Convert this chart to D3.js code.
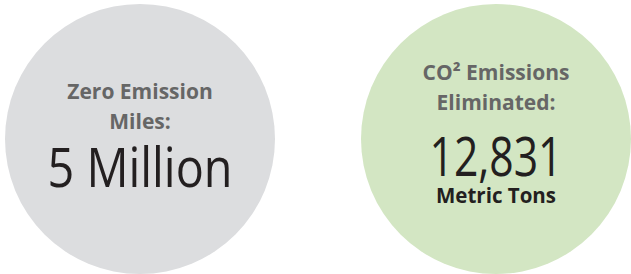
<!DOCTYPE html>
<html>
<head>
<meta charset="utf-8">
<script src="https://cdn.jsdelivr.net/npm/d3@7"></script>
<style>
  body { margin: 0; background: #fff; }
  svg { display: block; }
</style>
</head>
<body>
<script>
// stat bubbles
const keys = ["miles", "co2"];
const labels = [["Zero Emission", "Miles:"], ["CO² Emissions", "Eliminated:"]];
const values = ["5 Million", "12,831"];
const units = ["", "Metric Tons"];
const fills = ["#dcdddf", "#d3e6c3"];

const width = 631, height = 274;

const svg = d3.select("body").append("svg")
  .attr("width", width)
  .attr("height", height);

const x = d3.scalePoint().domain(keys).range([140, 496]);
const r = 135, cy = 139;

const g = svg.selectAll("g.bubble")
  .data(keys)
  .join("g")
  .attr("class", "bubble")
  .attr("transform", d => `translate(${x(d)},${cy})`);

g.append("circle")
  .attr("r", r)
  .attr("fill", (d, i) => fills[i]);

// top labels, two lines
g.each(function (d, i) {
  const el = d3.select(this);
  const top = i === 0 ? -40 : -59;
  el.selectAll("text.lbl")
    .data(labels[i])
    .join("text")
    .attr("class", "lbl")
    .attr("text-anchor", "middle")
    .attr("x", 0)
    .attr("y", (t, j) => top + j * 30)
    .attr("fill", "#666666")
    .style("font-family", "'Open Sans', sans-serif")
    .style("font-weight", 700)
    .style("font-size", "21px")
    .text(t => t);

  el.append("text")
    .attr("text-anchor", "middle")
    .attr("y", i === 0 ? 48 : 37)
    .attr("fill", "#231f20")
    .style("font-family", "'Open Sans', sans-serif")
    .style("font-weight", 500)
    .style("font-size", "54px")
    .attr("textLength", i === 0 ? 185 : 133)
    .attr("lengthAdjust", "spacingAndGlyphs")
    .text(values[i]);

  if (units[i]) {
    el.append("text")
      .attr("text-anchor", "middle")
      .attr("y", 64)
      .attr("fill", "#231f20")
      .style("font-family", "'Open Sans', sans-serif")
      .style("font-weight", 700)
      .style("font-size", "20.5px")
      .text(units[i]);
  }
});
</script>
</body>
</html>
